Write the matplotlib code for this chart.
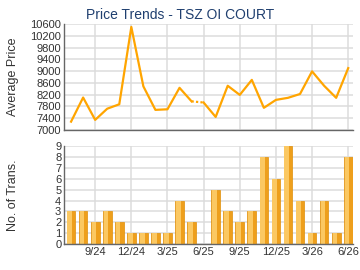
import matplotlib.pyplot as plt
import numpy as np

plt.rcParams['font.family'] = ['Liberation Sans', 'DejaVu Sans']

# monthly data 7/24 .. 6/26
months = ['7/24', '8/24', '9/24', '10/24', '11/24', '12/24', '1/25', '2/25', '3/25',
          '4/25', '5/25', '6/25', '7/25', '8/25', '9/25', '10/25', '11/25', '12/25',
          '1/26', '2/26', '3/26', '4/26', '5/26', '6/26']
avg_price = [7280, 8100, 7340, 7720, 7870, 10500, 8480, 7680, 7700, 8430, 7970, 7930,
             7440, 8500, 8190, 8700, 7750, 8020, 8090, 8220, 8990, 8500, 8090, 9100]
trans = [3, 3, 2, 3, 2, 1, 1, 1, 1, 4, 2, 0, 5, 3, 2, 3, 8, 6, 9, 4, 1, 4, 1, 8]
gap_idx = 11  # no transactions that month -> dotted

price_ticks = np.arange(7000, 10601, 400)
trans_ticks = np.arange(0, 10)

fig = plt.figure(figsize=(3.6, 2.7), dpi=100)
fig.patch.set_facecolor('white')

x = np.arange(len(months))
tick_pos = x[2::3]
tick_lab = months[2::3]

grid_c = '#dcdcdc'
txt_c = '#333333'


def style(ax):
    ax.set_xlim(-0.58, 23.41)
    ax.set_xticks(tick_pos)
    ax.grid(True, color=grid_c, linewidth=1.1)
    ax.set_axisbelow(True)
    for s in ['top', 'right']:
        ax.spines[s].set_visible(False)
    for s in ['left', 'bottom']:
        ax.spines[s].set_color('#666666')
        ax.spines[s].set_linewidth(1)
    ax.tick_params(length=0, labelsize=8, colors=txt_c, pad=2)


ax1 = fig.add_axes([0.178, 0.519, 0.803, 0.392])
style(ax1)
ax1.set_ylim(7000, 10600)
ax1.set_yticks(price_ticks)
ax1.set_xticklabels([])
xs = list(x)
ax1.plot(xs[:gap_idx], avg_price[:gap_idx], color='#FFA500', linewidth=1.6)
ax1.plot(xs[gap_idx - 1:gap_idx + 1], avg_price[gap_idx - 1:gap_idx + 1],
         color='#FFA500', linewidth=1.6, linestyle=(0, (1, 1)))
ax1.plot(xs[gap_idx:], avg_price[gap_idx:], color='#FFA500', linewidth=1.6)
ax1.set_ylabel('Average Price', fontsize=9, color=txt_c)
ax1.yaxis.set_label_coords(-0.155, 0.5)

ax2 = fig.add_axes([0.178, 0.096, 0.803, 0.363])
style(ax2)
ax2.set_ylim(0, 9)
ax2.set_yticks(trans_ticks)
ax2.set_xticklabels(tick_lab)
ax2.bar(x, trans, width=0.72, color='#EE9F1C', edgecolor='#E0900A', linewidth=0.5)
ax2.bar(x - 0.1, trans, width=0.4, color='#FBC862', linewidth=0)
ax2.set_ylabel('No. of Trans.', fontsize=9, color=txt_c)
ax2.yaxis.set_label_coords(-0.155, 0.5)

fig.text(0.5, 1 - 15 / 270, 'Price Trends - TSZ OI COURT', ha='center', va='center',
         fontsize=10, color='#1F3F6F')

plt.savefig('out.png', dpi=100)
